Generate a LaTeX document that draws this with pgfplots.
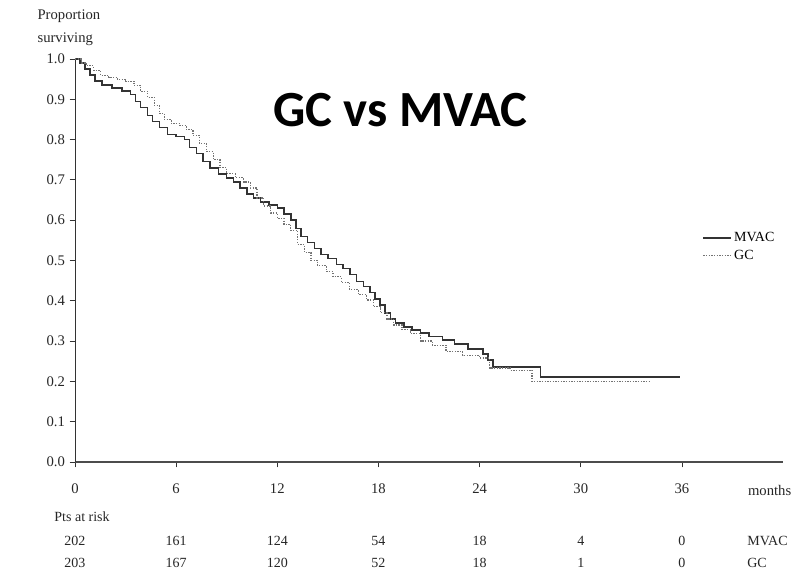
\documentclass[border=0pt]{standalone}
\usepackage{fontspec}
\setmainfont{Liberation Serif}
\newfontfamily\titlefont{Carlito}
\usepackage{pgfplots}
\pgfplotsset{compat=1.18}
\tikzset{risk/.style={font=\fontsize{10.5}{11}\selectfont, text=black!85}}
\begin{document}
\begin{tikzpicture}
\path[use as bounding box] (-56.25pt,-86.25pt) rectangle (543pt,346.5pt);
\begin{axis}[
  at={(0,0)}, anchor=south west,
  scale only axis, width=531.1pt, height=302.25pt,
  xmin=0, xmax=42, ymin=0, ymax=1,
  axis x line=bottom, axis y line=left,
  axis line style={-},
  x axis line style={line width=1.3pt, draw=black!70},
  y axis line style={line width=0.7pt, draw=black!80},
  xtick={0,6,12,18,24,30,36},
  ytick={0,0.1,0.2,0.3,0.4,0.5,0.6,0.7,0.8,0.9,1.0},
  yticklabel style={/pgf/number format/fixed, /pgf/number format/fixed zerofill, /pgf/number format/precision=1},
  /pgf/number format/assume math mode=true,
  tick label style={font=\fontsize{11}{12}\selectfont, text=black!85},
  xticklabel style={yshift=-9pt},
  tick align=outside, major tick length=4pt, tick style={black!80, line width=0.6pt},
  clip=false,
  legend style={at={(0.886,0.576)}, anchor=north west, draw=none, fill=none,
    font=\fontsize{10.5}{11}\selectfont, row sep=2pt, inner sep=0pt, nodes={inner sep=1.5pt}},
  legend cell align=left,
  legend image code/.code={\draw[#1] (0pt,0pt) -- (21pt,0pt);},
]
\addplot[const plot, line width=1.1pt, draw=black!80] coordinates {
(0,1.0) (0.3,0.99) (0.6,0.975) (0.9,0.96) (1.2,0.945) (1.6,0.935) (2.2,0.928) (2.8,0.92)
(3.3,0.912) (3.6,0.895) (3.9,0.88) (4.3,0.86) (4.6,0.845) (5.0,0.83) (5.5,0.812) (6.0,0.808)
(6.5,0.8) (6.8,0.78) (7.2,0.765) (7.6,0.745) (8.0,0.73) (8.5,0.715) (9.0,0.705) (9.4,0.695)
(9.8,0.68) (10.2,0.665) (10.6,0.655) (11.0,0.645) (11.5,0.638) (12.0,0.63) (12.4,0.615)
(12.8,0.6) (13.1,0.58) (13.4,0.56) (13.8,0.545) (14.2,0.53) (14.6,0.515) (15.0,0.505)
(15.5,0.49) (15.9,0.48) (16.3,0.465) (16.7,0.448) (17.1,0.435) (17.5,0.42) (17.8,0.405)
(18.1,0.39) (18.4,0.37) (18.7,0.355) (19.0,0.345) (19.5,0.335) (20.0,0.328) (20.5,0.32)
(21.0,0.312) (21.8,0.303) (22.5,0.293) (23.3,0.28) (24.2,0.268) (24.5,0.253) (24.8,0.236)
(27.6,0.211) (35.9,0.211)
};
\addlegendentry{MVAC}
\addplot[const plot, line width=0.9pt, draw=black!55, dash pattern=on 1pt off 1pt] coordinates {
(0,1.0) (0.4,0.99) (0.7,0.983) (1.1,0.972) (1.5,0.96) (2.0,0.955) (2.5,0.95) (3.0,0.945)
(3.5,0.935) (3.9,0.92) (4.3,0.905) (4.7,0.885) (5.0,0.865) (5.3,0.85) (5.7,0.84) (6.2,0.835)
(6.6,0.825) (7.0,0.81) (7.4,0.79) (7.8,0.77) (8.2,0.75) (8.6,0.73) (9.0,0.715) (9.5,0.705)
(10.0,0.695) (10.4,0.68) (10.8,0.655) (11.2,0.635) (11.6,0.618) (12.0,0.605) (12.4,0.59)
(12.8,0.575) (13.2,0.54) (13.6,0.52) (14.0,0.5) (14.4,0.487) (14.9,0.472) (15.3,0.46)
(15.8,0.445) (16.3,0.428) (16.8,0.415) (17.3,0.402) (17.7,0.385) (18.1,0.37) (18.5,0.355)
(18.9,0.34) (19.4,0.328) (19.9,0.318) (20.5,0.3) (21.2,0.29) (22.0,0.275) (23.0,0.265)
(24.0,0.258) (24.6,0.233) (25.8,0.228) (27.1,0.2) (34.1,0.2)
};
\addlegendentry{GC}
\node[font=\titlefont\bfseries\fontsize{38}{40}\selectfont] at (axis cs:19.3,0.873) {GC vs MVAC};
\node[anchor=west, font=\fontsize{11}{12}\selectfont, text=black!85] at (axis cs:-2.5,1.107) {Proportion};
\node[anchor=west, font=\fontsize{11}{12}\selectfont, text=black!85] at (axis cs:-2.5,1.05) {surviving};
\node[font=\fontsize{11}{12}\selectfont, text=black!85] at (axis cs:41.2,-0.07) {months};
\node[anchor=west, risk] at (axis cs:-1.5,-0.137) {Pts at risk};
\node[risk] at (axis cs:0,-0.195) {202};
\node[risk] at (axis cs:6,-0.195) {161};
\node[risk] at (axis cs:12,-0.195) {124};
\node[risk] at (axis cs:18,-0.195) {54};
\node[risk] at (axis cs:24,-0.195) {18};
\node[risk] at (axis cs:30,-0.195) {4};
\node[risk] at (axis cs:36,-0.195) {0};
\node[risk] at (axis cs:0,-0.25) {203};
\node[risk] at (axis cs:6,-0.25) {167};
\node[risk] at (axis cs:12,-0.25) {120};
\node[risk] at (axis cs:18,-0.25) {52};
\node[risk] at (axis cs:24,-0.25) {18};
\node[risk] at (axis cs:30,-0.25) {1};
\node[risk] at (axis cs:36,-0.25) {0};
\node[anchor=west, risk] at (axis cs:39.6,-0.195) {MVAC};
\node[anchor=west, risk] at (axis cs:39.6,-0.25) {GC};
\end{axis}
\end{tikzpicture}
\end{document}
